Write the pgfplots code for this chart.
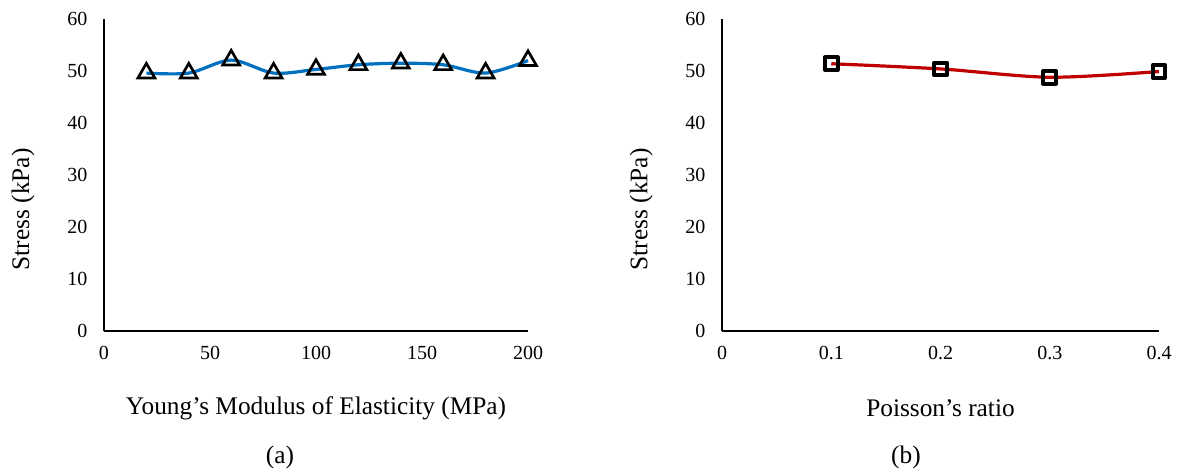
\documentclass[border=0pt]{standalone}
\usepackage{pgfplots}
\pgfplotsset{compat=1.18}
\usepackage{fontspec}
\setmainfont{Liberation Serif}
\definecolor{exblue}{RGB}{0,112,192}
\definecolor{exred}{RGB}{192,0,0}
\begin{document}
\begin{tikzpicture}
\path[use as bounding box] (0,0) rectangle (883.5pt,354pt);
\pgfplotsset{
  every axis/.style={
    scale only axis,
    height=234pt,
    axis lines=left,
    axis line style={-, line width=1.1pt},
    ymin=0, ymax=60, ytick={0,10,...,60},
    major tick length=0pt,
    tick label style={font=\fontsize{15}{17}\selectfont},
    label style={font=\fontsize{19}{22}\selectfont},
    /pgf/number format/assume math mode=true,
    xticklabel style={yshift=-8pt},
    yticklabel style={xshift=-9pt},
    ylabel={Stress (kPa)},
    clip=false,
  },
}
\begin{axis}[
  at={(78pt,105.75pt)}, anchor=south west,
  width=318pt,
  xmin=0, xmax=200, xtick={0,50,...,200},
  xlabel={Young’s Modulus of Elasticity (MPa)},
  xlabel style={at={(axis description cs:0.5,-0.247)}, anchor=center},
  ylabel style={at={(axis description cs:-0.191,0.39)}, anchor=center},
]
\addplot[exblue, line width=2.4pt, smooth, mark=triangle, mark size=7.3pt,
  mark options={black, fill=white, line width=2pt, solid, line join=miter}]
  coordinates {(20,49.6) (40,49.6) (60,52.1) (80,49.6) (100,50.3) (120,51.2) (140,51.5) (160,51.2) (180,49.6) (200,52.0)};
\node[font=\fontsize{19}{22}\selectfont] at (axis description cs:0.415,-0.404) {(a)};
\end{axis}
\begin{axis}[
  at={(541.5pt,105.75pt)}, anchor=south west,
  width=327.75pt,
  xmin=0, xmax=0.4, xtick={0,0.1,0.2,0.3,0.4},
  xticklabels={0,0.1,0.2,0.3,0.4},
  xlabel={Poisson’s ratio},
  xlabel style={at={(axis description cs:0.5,-0.247)}, anchor=center},
  ylabel style={at={(axis description cs:-0.185,0.39)}, anchor=center},
]
\addplot[exred, line width=2.4pt, smooth, mark=square, mark size=4.7pt,
  mark options={black, fill=white, line width=3pt, solid, line join=round}]
  coordinates {(0.1,51.4) (0.2,50.4) (0.3,48.8) (0.4,49.9)};
\node[font=\fontsize{19}{22}\selectfont] at (axis description cs:0.421,-0.404) {(b)};
\end{axis}
\end{tikzpicture}
\end{document}
